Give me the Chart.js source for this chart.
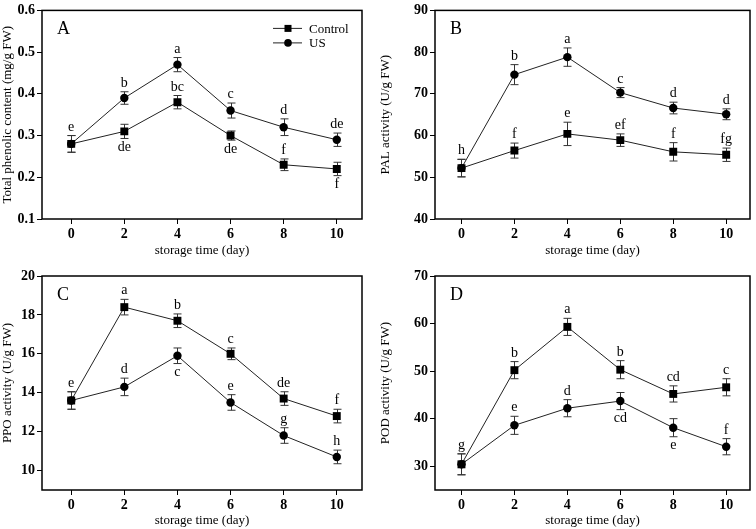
<!DOCTYPE html>
<html>
<head>
<meta charset="utf-8">
<script src="https://cdn.jsdelivr.net/npm/chart.js@4/dist/chart.umd.min.js"></script>
<style>
  body { margin: 0; background: #fff; width: 756px; height: 529px; position: relative; overflow: hidden; }
  .panel { position: absolute; }
</style>
</head>
<body>
<div class="panel" style="left:0;top:0"><canvas id="chartA" width="378" height="264"></canvas></div>
<div class="panel" style="left:378px;top:0"><canvas id="chartB" width="378" height="264"></canvas></div>
<div class="panel" style="left:0;top:264px"><canvas id="chartC" width="378" height="265"></canvas></div>
<div class="panel" style="left:378px;top:264px"><canvas id="chartD" width="378" height="265"></canvas></div>
<script>
const days = [0, 2, 4, 6, 8, 10];

// A - total phenolic content
const phenolControl = [0.28, 0.31, 0.38, 0.30, 0.23, 0.22];
const phenolControlErr = [0.02, 0.017, 0.016, 0.011, 0.014, 0.016];
const phenolUS = [0.28, 0.39, 0.47, 0.36, 0.32, 0.29];
const phenolUSErr = [0.02, 0.015, 0.017, 0.018, 0.02, 0.016];
const phenolControlLetters = ["", "de", "bc", "de", "f", "f"];
const phenolUSLetters = ["e", "b", "a", "c", "d", "de"];
const phenolTicks = [0.1, 0.2, 0.3, 0.4, 0.5, 0.6];

// B - PAL activity
const palControl = [52.2, 56.4, 60.4, 58.9, 56.1, 55.4];
const palControlErr = [2.1, 1.8, 2.8, 1.5, 2.2, 1.6];
const palUS = [52.2, 74.6, 78.8, 70.3, 66.6, 65.1];
const palUSErr = [2.1, 2.4, 2.2, 1.2, 1.4, 1.3];
const palControlLetters = ["", "f", "e", "ef", "f", "fg"];
const palUSLetters = ["h", "b", "a", "c", "d", "d"];
const palTicks = [40, 50, 60, 70, 80, 90];

// C - PPO activity
const ppoControl = [13.6, 18.4, 17.7, 16.0, 13.7, 12.8];
const ppoControlErr = [0.45, 0.4, 0.35, 0.3, 0.35, 0.35];
const ppoUS = [13.6, 14.3, 15.9, 13.5, 11.8, 10.7];
const ppoUSErr = [0.45, 0.45, 0.4, 0.4, 0.4, 0.35];
const ppoControlLetters = ["e", "a", "b", "c", "de", "f"];
const ppoUSLetters = ["", "d", "c", "e", "g", "h"];
const ppoTicks = [10, 12, 14, 16, 18, 20];

// D - POD activity
const podControl = [30.4, 50.2, 59.3, 50.3, 45.2, 46.6];
const podControlErr = [2.2, 1.8, 1.8, 1.9, 1.7, 1.8];
const podUS = [30.4, 38.6, 42.2, 43.7, 38.1, 34.1];
const podUSErr = [2.2, 1.9, 1.8, 1.8, 1.9, 1.7];
const podControlLetters = ["g", "b", "a", "b", "cd", "c"];
const podUSLetters = ["", "e", "d", "cd", "e", "f"];
const podTicks = [30, 40, 50, 60, 70];

const SERIF = "'Liberation Serif', 'Times New Roman', serif";

// error bars under the markers
const errorBars = {
  id: "errorBars",
  beforeDatasetsDraw(chart) {
    const ctx = chart.ctx, xs = chart.scales.x, ys = chart.scales.y;
    ctx.save();
    ctx.strokeStyle = "#333";
    ctx.lineWidth = 1;
    chart.data.datasets.forEach(ds => {
      ds.data.forEach((p, i) => {
        const e = ds.errors[i];
        const px = Math.round(xs.getPixelForValue(p.x)) + 0.5;
        const top = ys.getPixelForValue(p.y + e);
        const bot = ys.getPixelForValue(p.y - e);
        ctx.beginPath();
        ctx.moveTo(px, top); ctx.lineTo(px, bot);
        ctx.moveTo(px - 4, top); ctx.lineTo(px + 4, top);
        ctx.moveTo(px - 4, bot); ctx.lineTo(px + 4, bot);
        ctx.stroke();
      });
    });
    ctx.restore();
  }
};

// significance letters, above or below the error bar
const letters = {
  id: "letters",
  afterDatasetsDraw(chart) {
    const ctx = chart.ctx, xs = chart.scales.x, ys = chart.scales.y;
    ctx.save();
    ctx.fillStyle = "#000";
    ctx.font = "14px " + SERIF;
    ctx.textAlign = "center";
    chart.data.datasets.forEach(ds => {
      ds.data.forEach((p, i) => {
        const txt = ds.letters[i];
        if (!txt) return;
        const px = xs.getPixelForValue(p.x);
        if (ds.sides[i] === "down") {
          ctx.textBaseline = "top";
          ctx.fillText(txt, px, ys.getPixelForValue(p.y - ds.errors[i]) + 2);
        } else {
          ctx.textBaseline = "alphabetic";
          ctx.fillText(txt, px, ys.getPixelForValue(p.y + ds.errors[i]) - 5);
        }
      });
    });
    ctx.restore();
  }
};

// box frame, panel tag and in-plot legend
const frame = {
  id: "frame",
  afterDraw(chart, args, opts) {
    const ctx = chart.ctx, a = chart.chartArea;
    ctx.save();
    ctx.strokeStyle = "#000";
    ctx.lineWidth = 1.5;
    ctx.strokeRect(a.left, a.top, a.right - a.left, a.bottom - a.top);
    ctx.fillStyle = "#000";
    ctx.font = "18px " + SERIF;
    ctx.textAlign = "left";
    ctx.textBaseline = "middle";
    ctx.fillText(opts.tag, a.left + 15, a.top + 19);
    if (opts.legend) {
      ctx.font = "13px " + SERIF;
      chart.data.datasets.forEach((ds, k) => {
        const y = a.top + 18 + k * 14.5;
        const x0 = a.right - 89;
        ctx.strokeStyle = "#222";
        ctx.lineWidth = 1;
        ctx.beginPath(); ctx.moveTo(x0, y); ctx.lineTo(x0 + 29, y); ctx.stroke();
        ctx.fillStyle = "#000";
        if (ds.pointStyle === "rect") {
          ctx.fillRect(x0 + 11.5, y - 3.5, 7, 7);
        } else {
          ctx.beginPath(); ctx.arc(x0 + 15, y, 3.8, 0, Math.PI * 2); ctx.fill();
        }
        ctx.fillText(ds.label, x0 + 36, y + 1);
      });
    }
    ctx.restore();
  }
};

function series(label, vals, errs, lets, sides, style) {
  return {
    label: label,
    data: days.map((d, i) => ({ x: d, y: vals[i] })),
    errors: errs,
    letters: lets,
    sides: sides,
    borderColor: "#222",
    borderWidth: 1,
    pointStyle: style,
    pointRadius: style === "rect" ? 5.6 : 4.2,
    pointBackgroundColor: "#000",
    pointBorderColor: "#000",
    pointBorderWidth: 0,
    tension: 0
  };
}

const UP = ["up", "up", "up", "up", "up", "up"];

function makePanel(id, p) {
  new Chart(document.getElementById(id), {
    type: "line",
    data: {
      datasets: [
        series("Control", p.control, p.controlErr, p.controlLetters, p.controlSides, "rect"),
        series("US", p.us, p.usErr, p.usLetters, p.usSides, "circle")
      ]
    },
    options: {
      responsive: false,
      animation: false,
      devicePixelRatio: 1,
      layout: { padding: { top: p.top, right: p.right, left: 0, bottom: 0 } },
      plugins: {
        legend: { display: false },
        tooltip: { enabled: false },
        frame: { tag: p.tag, legend: p.legend }
      },
      scales: {
        x: {
          type: "linear",
          min: p.xMin,
          max: p.xMax,
          afterBuildTicks: s => { s.ticks = days.map(v => ({ value: v })); },
          afterFit: s => { s.height = p.xAxisH; },
          border: { display: false },
          grid: { drawOnChartArea: false, color: "#000", tickLength: 5 },
          ticks: { color: "#000", padding: 2, font: { family: SERIF, size: 14, weight: "bold" } },
          title: { display: true, text: "storage time (day)", color: "#000", padding: { top: 0, bottom: p.titlePad }, font: { family: SERIF, size: 13 } }
        },
        y: {
          min: p.yMin,
          max: p.yMax,
          afterBuildTicks: s => { s.ticks = p.yTicks.map(v => ({ value: v })); },
          afterFit: s => { s.width = p.yAxisW; },
          border: { display: false },
          grid: { drawOnChartArea: false, color: "#000", tickLength: 5 },
          ticks: { color: "#000", padding: 2, font: { family: SERIF, size: 14, weight: "bold" } },
          title: { display: true, text: p.yTitle, color: "#000", padding: 0, font: { family: SERIF, size: 13 } }
        }
      }
    },
    plugins: [errorBars, letters, frame]
  });
}

makePanel("chartA", {
  tag: "A", legend: true,
  control: phenolControl, controlErr: phenolControlErr, controlLetters: phenolControlLetters,
  controlSides: ["up", "down", "up", "down", "up", "down"],
  us: phenolUS, usErr: phenolUSErr, usLetters: phenolUSLetters, usSides: UP,
  yMin: 0.1, yMax: 0.6, yTicks: phenolTicks, yTitle: "Total phenolic content (mg/g FW)",
  xMin: -1.1, xMax: 10.95, top: 6, right: 16, yAxisW: 42, xAxisH: 45, titlePad: 6
});

makePanel("chartB", {
  tag: "B", legend: false,
  control: palControl, controlErr: palControlErr, controlLetters: palControlLetters, controlSides: UP,
  us: palUS, usErr: palUSErr, usLetters: palUSLetters, usSides: UP,
  yMin: 40, yMax: 90, yTicks: palTicks, yTitle: "PAL activity (U/g FW)",
  xMin: -1.0, xMax: 10.9, top: 6, right: 6, yAxisW: 57, xAxisH: 45, titlePad: 6
});

makePanel("chartC", {
  tag: "C", legend: false,
  control: ppoControl, controlErr: ppoControlErr, controlLetters: ppoControlLetters, controlSides: UP,
  us: ppoUS, usErr: ppoUSErr, usLetters: ppoUSLetters,
  usSides: ["up", "up", "down", "up", "up", "up"],
  yMin: 9, yMax: 20, yTicks: ppoTicks, yTitle: "PPO activity (U/g FW)",
  xMin: -1.1, xMax: 10.95, top: 12, right: 16, yAxisW: 42, xAxisH: 39, titlePad: 1
});

makePanel("chartD", {
  tag: "D", legend: false,
  control: podControl, controlErr: podControlErr, controlLetters: podControlLetters, controlSides: UP,
  us: podUS, usErr: podUSErr, usLetters: podUSLetters,
  usSides: ["up", "up", "up", "down", "down", "up"],
  yMin: 25, yMax: 70, yTicks: podTicks, yTitle: "POD activity (U/g FW)",
  xMin: -1.0, xMax: 10.9, top: 12, right: 6, yAxisW: 57, xAxisH: 39, titlePad: 1
});
</script>
</body>
</html>
